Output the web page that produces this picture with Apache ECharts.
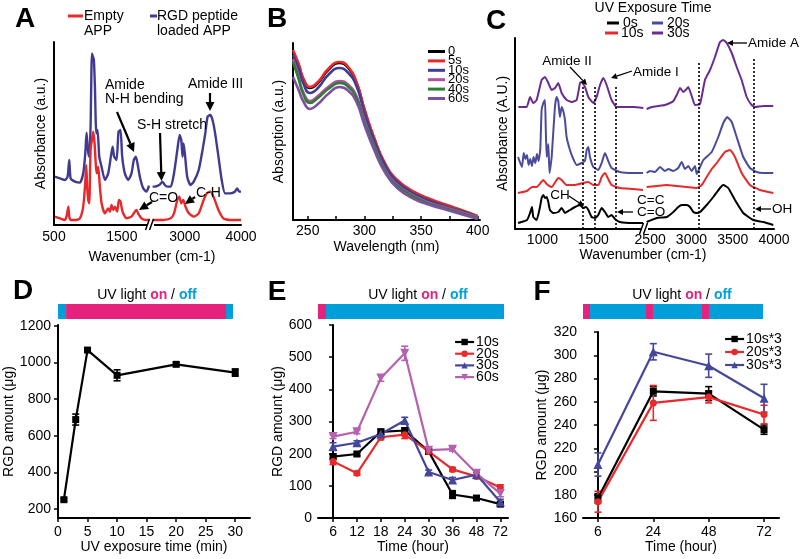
<!DOCTYPE html>
<html><head><meta charset="utf-8">
<script src="https://cdn.jsdelivr.net/npm/echarts@6/dist/echarts.min.js"></script>
<style>html,body{margin:0;padding:0;background:#fff}#c{width:800px;height:559px}</style>
</head><body><div id="c"></div>
<script>
// ---------------- DATA ----------------
// Panel A: FTIR spectra [wavenumber, absorbance a.u.]
const aRgd = [[515,145],[588,140],[662,135],[700,145],[725,195],[745,140],[809,130],[882,127],[931,155],[961,215],[980,277],[1000,225],[1020,205],[1039,295],[1059,515],[1074,505],[1088,495],[1103,415],[1123,275],[1142,285],[1167,205],[1201,175],[1250,135],[1299,155],[1338,205],[1363,235],[1387,205],[1422,195],[1451,280],[1480,285],[1505,205],[1544,155],[1593,135],[1642,155],[1676,195],[1706,205],[1730,185],[1765,145],[1814,110],[1863,100],[1900,118],
[2429,115],[2458,115],[2546,120],[2605,130],[2646,120],[2692,115],[2751,115],[2809,155],[2868,225],[2909,270],[2938,255],[2961,205],[2979,245],[3002,215],[3043,145],[3102,120],[3160,130],[3248,165],[3306,215],[3365,275],[3406,325],[3453,330],[3494,315],[3540,275],[3599,205],[3657,135],[3716,95],[3804,95],[3891,100],[3932,110],[3967,100],[4000,100]];
const aEmpty = [[515,25],[588,20],[662,15],[686,27],[711,55],[725,25],[745,15],[833,15],[882,20],[922,45],[941,75],[961,130],[975,180],[990,110],[1005,75],[1020,65],[1039,225],[1059,255],[1078,280],[1098,245],[1118,175],[1132,155],[1152,175],[1176,115],[1201,65],[1250,35],[1299,50],[1324,40],[1348,60],[1373,45],[1397,55],[1431,40],[1456,75],[1480,70],[1510,40],[1569,20],[1642,25],[1691,40],[1716,45],[1740,35],[1789,20],[1863,15],[1900,15],
[2429,15],[2605,15],[2751,20],[2809,35],[2868,75],[2903,85],[2938,65],[2973,75],[3014,55],[3073,35],[3160,25],[3248,35],[3336,75],[3394,95],[3453,100],[3511,85],[3599,45],[3686,20],[3804,15],[4000,15]];
const aTicksL = [500,1500];
const aTicksR = [3000,4000];

// Panel B: UV-vis absorption
const bWave = [237,242,246,252,259,268,278,285,293,300,309,318,329,344,358,373,388,400];
const bNames = ['0','5s','10s','20s','40s','60s'];
const b0  = [168,155,141,132,137,150,157,153,137,110,80,56,39,27,20,14,8,3];
const b5  = [170,156,142,133,138,151,158,154,138,111,81,57,40,28,21,15,9,4];
const b10 = [165,151,137,127,132,145,152,148,134,107,78,55,38,26,19,13,8,3];
const b20 = [161,143,128,119,124,133,139,136,124,100,73,51,35,24,17,12,7,3];
const b40 = [158,141,126,117,122,131,137,134,122,98,72,50,34,23,16,11,6,2];
const b60 = [143,130,119,111,116,126,133,130,118,95,69,48,32,21,15,10,5,1];
const bTickLabels = [250,300,350,400];
const bTicks = [250,275,300,325,350,375,400];

// Panel C: FTIR vs UV exposure time
const c0s = [[760,6],[848,9],[878,16],[897,22],[910,12],[943,9],[976,22],[992,31],[1009,34],[1025,31],[1042,32],[1058,27],[1074,19],[1107,16],[1156,17],[1189,21],[1222,16],[1271,19],[1321,22],[1370,24],[1402,21],[1429,22],[1452,19],[1485,12],[1517,11],[1550,14],[1583,21],[1616,17],[1648,12],[1681,14],[1714,10],[1763,7],[1894,6],[1990,6],
[2458,7],[2580,11],[2701,12],[2781,17],[2841,22],[2882,24],[2943,24],[2983,22],[3023,17],[3064,16],[3104,17],[3185,24],[3265,32],[3346,41],[3386,44],[3446,41],[3527,29],[3628,16],[3749,9],[3870,7],[3991,4]];
const c10s = [[760,36],[848,38],[897,42],[943,42],[1009,49],[1042,45],[1091,42],[1156,51],[1189,49],[1238,44],[1321,44],[1402,46],[1452,47],[1501,44],[1550,44],[1583,52],[1616,56],[1648,50],[1681,44],[1763,41],[1894,40],[1990,39],
[2458,42],[2580,43],[2701,44],[2822,43],[2943,42],[3064,41],[3125,44],[3185,52],[3246,60],[3306,66],[3406,77],[3467,79],[3527,72],[3608,56],[3709,44],[3830,39],[3991,36]];
const c20s = [[760,72],[798,62],[816,76],[832,70],[848,74],[864,64],[880,70],[897,63],[913,72],[930,66],[946,75],[962,68],[979,80],[992,119],[1009,126],[1025,129],[1033,100],[1042,72],[1058,85],[1070,56],[1091,72],[1123,122],[1140,132],[1156,128],[1172,112],[1189,122],[1205,118],[1222,109],[1238,92],[1271,79],[1304,70],[1337,64],[1386,66],[1419,68],[1436,79],[1452,82],[1468,72],[1501,62],[1550,59],[1583,66],[1616,76],[1648,68],[1681,61],[1763,57],[1894,56],[1990,56],
[2458,56],[2498,58],[2560,57],[2619,62],[2680,58],[2720,60],[2781,58],[2840,61],[2882,67],[2922,60],[2962,63],[3003,58],[3043,63],[3064,55],[3104,62],[3144,69],[3245,77],[3325,92],[3386,106],[3434,112],[3488,107],[3548,92],[3628,72],[3709,61],[3790,57],[3870,56],[3991,56]];
const c30s = [[763,122],[845,122],[878,132],[910,126],[943,129],[992,149],[1025,152],[1058,146],[1091,139],[1124,141],[1156,146],[1189,136],[1239,129],[1288,127],[1337,129],[1370,146],[1386,147],[1419,142],[1452,132],[1501,126],[1534,132],[1567,144],[1599,151],[1632,144],[1681,129],[1731,122],[1894,122],[1993,121],
[2458,120],[2520,122],[2600,123],[2680,124],[2741,126],[2781,128],[2822,134],[2862,141],[2902,137],[2942,140],[2962,142],[3003,133],[3043,124],[3104,125],[3164,149],[3225,159],[3285,172],[3346,187],[3386,189],[3427,186],[3488,176],[3548,162],[3608,149],[3669,132],[3729,124],[3770,122],[3870,123],[3991,123]];
const cMarkLeft = [[1399,143],[1517,143],[1724,143]];
const cMarkRight = [[3092,168],[3757,171]];
const cTicksL = [1000,1500];
const cTicksR = [2500,3000,3500,4000];

// Panel D
const dTime = [1,3,5,10,20,30];
const dAmount = [250,688,1068,930,990,945];
const dErr = [8,30,10,30,10,20];
const dTicksX = [0,5,10,15,20,25,30];
const dTicksY = [200,400,600,800,1000,1200];

// Panel E
const eTimes = ['6','12','18','24','30','36','48','72'];
const e10 = [191,199,268,272,207,73,62,43];
const e10err = [8,6,8,8,8,12,6,6];
const e20 = [176,139,251,259,207,151,129,95];
const e20err = [10,6,8,12,6,6,6,8];
const e30 = [222,234,261,303,143,118,135,50];
const e30err = [12,6,6,10,6,8,6,8];
const e60 = [253,268,435,512,211,214,139,76];
const e60err = [6,6,10,22,6,6,6,10];
const eTicksY = [0,100,200,300,400,500,600];

// Panel F
const fTimes = ['6','24','48','72'];
const f10 = [177,269,267,236];
const f10err = [4,4,6,4];
const f20 = [174,259,264,249];
const f20err = [9,15,5,8];
const f30 = [206,303,291,263];
const f30err = [10,7,10,12];
const fTicksY = [160,180,200,220,240,260,280,300,320];

// UV light on/off timelines (relative durations)
const uvD = [['off',4.6],['on',91.4],['off',4.0]];
const uvE = [['on',4.3],['off',95.7]];
const uvF = [['on',3.9],['off',31.1],['on',3.9],['off',27.2],['on',3.9],['off',30.0]];

// ---------------- STYLE ----------------
const FF = '"Liberation Sans", Arial, Helvetica, sans-serif';
const RED = '#e8292b', NAVY = '#403b91', PINK = '#e6237c', CYAN = '#009fda';
const bColors = ['#000000', RED, '#3d3d96', '#b2519e', '#2f7d33', '#7d50a3'];
const cColors = ['#000000', RED, '#4b4b9b', '#6a2c8e'];
const eColors = ['#000000', RED, '#45479b', '#b561ad'];

const plain = (v) => String(v);
const axLine = {show:true, lineStyle:{color:'#000', width:2}};
const lab = (o) => Object.assign({color:'#000', fontSize:14, fontFamily:FF, formatter:plain}, o || {});
const nameStyle = {color:'#000', fontSize:14, fontFamily:FF};
const noTick = {show:false};
const outTick = (vals) => ({show:true, length:4, customValues:vals, lineStyle:{color:'#000', width:1.5}});
const noSplit = {show:false};

const grid = [
  {left:54, top:42, width:95, height:183},   // 0 A left
  {left:151, top:42, width:90, height:183},  // 1 A right
  {left:293, top:43, width:187, height:177}, // 2 B
  {left:515, top:38, width:129, height:191}, // 3 C left
  {left:646, top:38, width:128, height:191}, // 4 C right
  {left:58, top:325, width:192, height:193}, // 5 D
  {left:318, top:325, width:190, height:193},// 6 E
  {left:583, top:332, width:196, height:186},// 7 F
  {left:58, top:304, width:175, height:15},  // 8 D UV bar
  {left:318, top:304, width:186, height:15}, // 9 E UV bar
  {left:583, top:304, width:180, height:15}  // 10 F UV bar
].map(g => Object.assign({outerBoundsMode:'none', containLabel:false}, g));

const xAxis = [
  {gridIndex:0, type:'value', min:500, max:1900, axisLine:axLine, axisTick:noTick, splitLine:noSplit, axisLabel:lab({customValues:aTicksL, margin:5})},
  {gridIndex:1, type:'value', min:2400, max:4000, axisLine:axLine, axisTick:noTick, splitLine:noSplit, axisLabel:lab({customValues:aTicksR, margin:5})},
  {gridIndex:2, type:'value', min:237, max:402, axisLine:axLine, axisTick:{show:true, inside:true, length:4, customValues:bTicks, lineStyle:{color:'#000', width:1.5}}, splitLine:noSplit, axisLabel:lab({customValues:bTickLabels, margin:4}), name:'Wavelength (nm)', nameLocation:'middle', nameGap:20, nameTextStyle:nameStyle},
  {gridIndex:3, type:'value', min:730, max:2000, axisLine:axLine, axisTick:noTick, splitLine:noSplit, axisLabel:lab({customValues:cTicksL, margin:4})},
  {gridIndex:4, type:'value', min:2450, max:4000, axisLine:axLine, axisTick:noTick, splitLine:noSplit, axisLabel:lab({customValues:cTicksR, margin:4})},
  {gridIndex:5, type:'value', min:0, max:32.5, axisLine:axLine, axisTick:outTick(dTicksX), splitLine:noSplit, axisLabel:lab({customValues:dTicksX, margin:7}), name:'UV exposure time (min)', nameLocation:'middle', nameGap:22, nameTextStyle:nameStyle},
  {gridIndex:6, type:'value', min:-0.63, max:7.32, axisLine:axLine, axisTick:outTick(eTimes.map((_, i) => i)), splitLine:noSplit, axisLabel:lab({customValues:eTimes.map((_, i) => i), margin:7, formatter:(v) => eTimes[Math.round(v)]}), name:'Time (hour)', nameLocation:'middle', nameGap:20, nameTextStyle:nameStyle},
  {gridIndex:7, type:'value', min:-0.27, max:3.27, axisLine:axLine, axisTick:outTick(fTimes.map((_, i) => i)), splitLine:noSplit, axisLabel:lab({customValues:fTimes.map((_, i) => i), margin:7, formatter:(v) => fTimes[Math.round(v)]}), name:'Time (hour)', nameLocation:'middle', nameGap:22, nameTextStyle:nameStyle},
  {gridIndex:8, type:'value', min:0, max:100, show:false},
  {gridIndex:9, type:'value', min:0, max:100, show:false},
  {gridIndex:10, type:'value', min:0, max:100, show:false}
];

const yAxis = [
  {gridIndex:0, type:'value', min:0, max:549, axisLine:axLine, axisTick:noTick, axisLabel:{show:false}, splitLine:noSplit, name:'Absorbance (a.u.)', nameLocation:'middle', nameGap:6, nameTextStyle:nameStyle},
  {gridIndex:1, type:'value', min:0, max:549, show:false},
  {gridIndex:2, type:'value', min:0, max:177, axisLine:axLine, axisTick:noTick, axisLabel:{show:false}, splitLine:noSplit, name:'Absorption (a.u.)', nameLocation:'middle', nameGap:7, nameTextStyle:nameStyle},
  {gridIndex:3, type:'value', min:0, max:191, axisLine:axLine, axisTick:noTick, axisLabel:{show:false}, splitLine:noSplit, name:'Absorbance (A.U.)', nameLocation:'middle', nameGap:5, nameTextStyle:nameStyle},
  {gridIndex:4, type:'value', min:0, max:191, show:false},
  {gridIndex:5, type:'value', min:150, max:1205, axisLine:axLine, axisTick:outTick(dTicksY), splitLine:noSplit, axisLabel:lab({customValues:dTicksY, margin:7}), name:'RGD amount (μg)', nameLocation:'middle', nameGap:40, nameTextStyle:nameStyle},
  {gridIndex:6, type:'value', min:0, max:600, axisLine:axLine, axisTick:outTick(eTicksY), splitLine:noSplit, axisLabel:lab({customValues:eTicksY, margin:6}), name:'RGD amount (μg)', nameLocation:'middle', nameGap:32, nameTextStyle:nameStyle},
  {gridIndex:7, type:'value', min:160, max:320, axisLine:axLine, axisTick:outTick(fTicksY), splitLine:noSplit, axisLabel:lab({customValues:fTicksY, margin:6}), name:'RGD amount (μg)', nameLocation:'middle', nameGap:34, nameTextStyle:nameStyle},
  {gridIndex:8, type:'category', data:['UV'], show:false},
  {gridIndex:9, type:'category', data:['UV'], show:false},
  {gridIndex:10, type:'category', data:['UV'], show:false}
];

// ---------------- SERIES ----------------
const series = [];
function spectrum(name, data, color, gL, gR, split, width, smooth) {
  [[gL, data.filter(p => p[0] <= split[0])], [gR, data.filter(p => p[0] >= split[1])]].forEach(([g, d]) => {
    series.push({type:'line', name, xAxisIndex:g, yAxisIndex:g, data:d, symbol:'none', showSymbol:false, smooth,
      lineStyle:{color, width}, itemStyle:{color}, silent:true, z:3});
  });
}
spectrum('A:RGD peptide loaded APP', aRgd, NAVY, 0, 1, [1900, 2400], 2.4, 0.2);
spectrum('A:Empty APP', aEmpty, RED, 0, 1, [1900, 2400], 2.4, 0.2);

const bAll = [b0, b5, b10, b20, b40, b60];
bAll.forEach((vals, k) => {
  series.push({type:'line', name:'B:' + bNames[k], xAxisIndex:2, yAxisIndex:2, data:bWave.map((w, i) => [w, vals[i]]),
    symbol:'none', showSymbol:false, smooth:true, lineStyle:{color:bColors[k], width:2.6}, itemStyle:{color:bColors[k]}, silent:true, z:3});
});

[c0s, c10s, c20s, c30s].forEach((d, k) => spectrum('C:' + ['0s','10s','20s','30s'][k], d, cColors[k], 3, 4, [2000, 2450], 2, 0.15));

const dotted = {type:[2, 2], color:'#000', width:1.6};
series.push({type:'line', xAxisIndex:3, yAxisIndex:3, data:[], silent:true,
  markLine:{symbol:['none','none'], silent:true, label:{show:false}, lineStyle:dotted, animation:false,
    data:cMarkLeft.map(([x, top]) => [{coord:[x, 0]}, {coord:[x, top]}])}});
series.push({type:'line', xAxisIndex:4, yAxisIndex:4, data:[], silent:true,
  markLine:{symbol:['none','none'], silent:true, label:{show:false}, lineStyle:dotted, animation:false,
    data:cMarkRight.map(([x, top]) => [{coord:[x, 0]}, {coord:[x, top]}])}});

function errSeries(gi, xs, ys, es, color) {
  return {type:'custom', xAxisIndex:gi, yAxisIndex:gi, silent:true, z:2,
    data:xs.map((x, i) => [x, ys[i], es[i]]),
    renderItem:(params, api) => {
      const x = api.value(0), y = api.value(1), e = api.value(2);
      const a = api.coord([x, y + e]), b = api.coord([x, y - e]);
      const w = 3.5, st = {stroke:color, lineWidth:1.6};
      return {type:'group', children:[
        {type:'line', shape:{x1:a[0], y1:a[1], x2:b[0], y2:b[1]}, style:st},
        {type:'line', shape:{x1:a[0] - w, y1:a[1], x2:a[0] + w, y2:a[1]}, style:st},
        {type:'line', shape:{x1:b[0] - w, y1:b[1], x2:b[0] + w, y2:b[1]}, style:st}]};
    }};
}
function pointSeries(name, gi, xs, ys, color, symbol, size, rot) {
  return {type:'line', name, xAxisIndex:gi, yAxisIndex:gi, data:xs.map((x, i) => [x, ys[i]]),
    symbol, symbolSize:size, symbolRotate:rot || 0, showSymbol:true, lineStyle:{color, width:2.2},
    itemStyle:{color, borderWidth:0}, silent:true, z:3};
}
// D
series.push(errSeries(5, dTime, dAmount, dErr, '#000'));
series.push(pointSeries('D:RGD', 5, dTime, dAmount, '#000', 'rect', 7));
// E
const eIdx = eTimes.map((_, i) => i);
const eSets = [['10s', e10, e10err, 'rect', 7, 0], ['20s', e20, e20err, 'circle', 7, 0], ['30s', e30, e30err, 'triangle', 9, 0], ['60s', e60, e60err, 'triangle', 9, 180]];
eSets.forEach(([n, v, er, sym, sz, rot], k) => {
  series.push(errSeries(6, eIdx, v, er, eColors[k]));
  series.push(pointSeries('E:' + n, 6, eIdx, v, eColors[k], sym, sz, rot));
});
// F
const fIdx = fTimes.map((_, i) => i);
const fSets = [['10s*3', f10, f10err, 'rect', 7], ['20s*3', f20, f20err, 'circle', 7], ['30s*3', f30, f30err, 'triangle', 9]];
fSets.forEach(([n, v, er, sym, sz], k) => {
  series.push(errSeries(7, fIdx, v, er, eColors[k]));
  series.push(pointSeries('F:' + n, 7, fIdx, v, eColors[k], sym, sz));
});
// UV bars
function uvSeries(gi, segs, key) {
  segs.forEach(([s, v]) => series.push({type:'bar', xAxisIndex:gi, yAxisIndex:gi, stack:key, data:[v], barWidth:'100%',
    itemStyle:{color:s === 'on' ? PINK : CYAN}, silent:true}));
}
uvSeries(8, uvD, 'uvD'); uvSeries(9, uvE, 'uvE'); uvSeries(10, uvF, 'uvF');

// ---------------- LEGENDS ----------------
const stripName = (n) => n.split(':')[1];
const legend = [
  {data:bNames.map(n => 'B:' + n), orient:'vertical', left:423, top:40, itemWidth:17, itemHeight:3, itemGap:-3.6, icon:'rect',
   formatter:stripName, selectedMode:false, textStyle:{color:'#000', fontSize:13, fontFamily:FF, padding:[0,0,0,-2]}},
  {data:eSets.map(s => 'E:' + s[0]), orient:'vertical', left:449, top:330, itemWidth:19, itemHeight:8, itemGap:-2.3,
   formatter:stripName, selectedMode:false, lineStyle:{width:2.2}, textStyle:{color:'#000', fontSize:14, fontFamily:FF, padding:[0,0,0,-3]}},
  {data:fSets.map(s => 'F:' + s[0]), orient:'vertical', left:719, top:327, itemWidth:19, itemHeight:8, itemGap:-1,
   formatter:stripName, selectedMode:false, lineStyle:{width:2.2}, textStyle:{color:'#000', fontSize:14, fontFamily:FF, padding:[0,0,0,-3]}}
];

// ---------------- GRAPHIC (labels, annotations) ----------------
const G = [];
function txt(text, x, y, o) {
  o = o || {};
  const al = o.align || 'left', va = o.va || 'middle';
  G.push({type:'text', x, y, z:100, silent:true, style:Object.assign({text, fill:o.color || '#000',
    font:(o.weight || 'normal') + ' ' + (o.size || 14) + 'px ' + FF,
    textAlign:al, textVerticalAlign:va, align:al, verticalAlign:va}, o.style || {})});
}
function seg(x1, y1, x2, y2, color, w) {
  G.push({type:'line', z:100, silent:true, shape:{x1, y1, x2, y2}, style:{stroke:color || '#000', lineWidth:w || 2}});
}
function arrow(x1, y1, x2, y2, thin) {
  const hl = thin ? 6 : 9, hw = thin ? 3 : 4.5, lw = thin ? 1.3 : 2.2;
  const dx = x2 - x1, dy = y2 - y1, L = Math.hypot(dx, dy), ux = dx / L, uy = dy / L;
  const bx = x2 - ux * hl, by = y2 - uy * hl;
  seg(x1, y1, bx, by, '#000', lw);
  G.push({type:'polygon', z:100, silent:true, shape:{points:[[x2, y2], [bx - uy * hw, by + ux * hw], [bx + uy * hw, by - ux * hw]]}, style:{fill:'#000'}});
}
// panel letters
[['A', 25, 19], ['B', 277, 19], ['C', 496, 21], ['D', 23, 291], ['E', 277, 292], ['F', 542, 292]].forEach(([t, x, y]) => txt(t, x, y, {size:28, weight:'bold', align:'center'}));
// Panel A legend
seg(68, 16, 83, 16, RED, 3); txt('Empty', 84, 16); txt('APP', 84, 31);
seg(150, 16, 157, 16, NAVY, 3); txt('RGD peptide', 157, 16); txt('loaded APP', 157, 31);
// Panel A annotations
txt('Amide', 105, 85); txt('N-H bending', 105, 99); txt('S-H stretch', 137, 125); txt('Amide III', 188, 84);
txt('C=O', 149, 198); txt('C-H', 196, 193);
arrow(117, 112, 134, 152); arrow(160, 133, 161.5, 181); arrow(210, 93, 210, 111); arrow(152, 202, 139, 210); arrow(195, 197, 185, 204);
txt('Wavenumber (cm-1)', 152, 257, {align:'center'});
// A axis break
G.push({type:'rect', z:99, silent:true, shape:{x:147, y:222, width:7, height:6}, style:{fill:'#fff'}});
seg(145.5, 230, 149.5, 219, '#000', 1.5); seg(149.5, 230, 153.5, 219, '#000', 1.5);
// Panel C legend & annotations
txt('UV Exposure Time', 653, 8, {align:'center'});
seg(607, 23, 619, 23, cColors[0], 3); txt('0s', 623, 23);
seg(652, 23, 663, 23, cColors[2], 3); txt('20s', 667, 23);
seg(605, 33, 618, 33, cColors[1], 3); txt('10s', 621, 33);
seg(652, 33, 663, 33, cColors[3], 3); txt('30s', 667, 33);
txt('Amide II', 567, 61, {align:'center', size:13.5}); txt('Amide I', 633, 72, {size:13.5}); txt('Amide A', 748, 43, {size:13.5});
txt('CH', 560, 195, {align:'center', size:13.5}); txt('C=C', 637, 200, {size:13.5}); txt('C=O', 637, 212, {size:13.5}); txt('OH', 772, 209, {size:13.5});
arrow(570, 67, 587, 85, true); arrow(632, 71, 611, 78, true); arrow(747, 43, 727, 43, true);
arrow(569, 196, 584, 206, true); arrow(633, 212, 617, 212, true); arrow(771, 209, 755, 209, true);
txt('Wavenumber (cm-1)', 643, 255, {align:'center'});
G.push({type:'rect', z:99, silent:true, shape:{x:642, y:225, width:6, height:7}, style:{fill:'#fff'}});
seg(639.5, 234, 643.5, 223, '#000', 1.5); seg(643.5, 234, 647.5, 223, '#000', 1.5);
// UV light titles
function uvTitle(x) {
  G.push({type:'text', x, y:295, z:100, silent:true, style:{
    text:'{n|UV light }{p|on}{n| / }{c|off}', textAlign:'center', textVerticalAlign:'middle', align:'center', verticalAlign:'middle',
    rich:{n:{fill:'#000', font:'14px ' + FF}, p:{fill:PINK, font:'bold 14px ' + FF}, c:{fill:CYAN, font:'bold 14px ' + FF}}}});
}
uvTitle(147); uvTitle(418); uvTitle(682);

const option = {
  animation:false,
  backgroundColor:'#fff',
  textStyle:{fontFamily:FF},
  grid, xAxis, yAxis, series, legend, graphic:G
};
const chart = echarts.init(document.getElementById('c'), null, {renderer:'canvas'});
chart.setOption(option);
</script></body></html>
